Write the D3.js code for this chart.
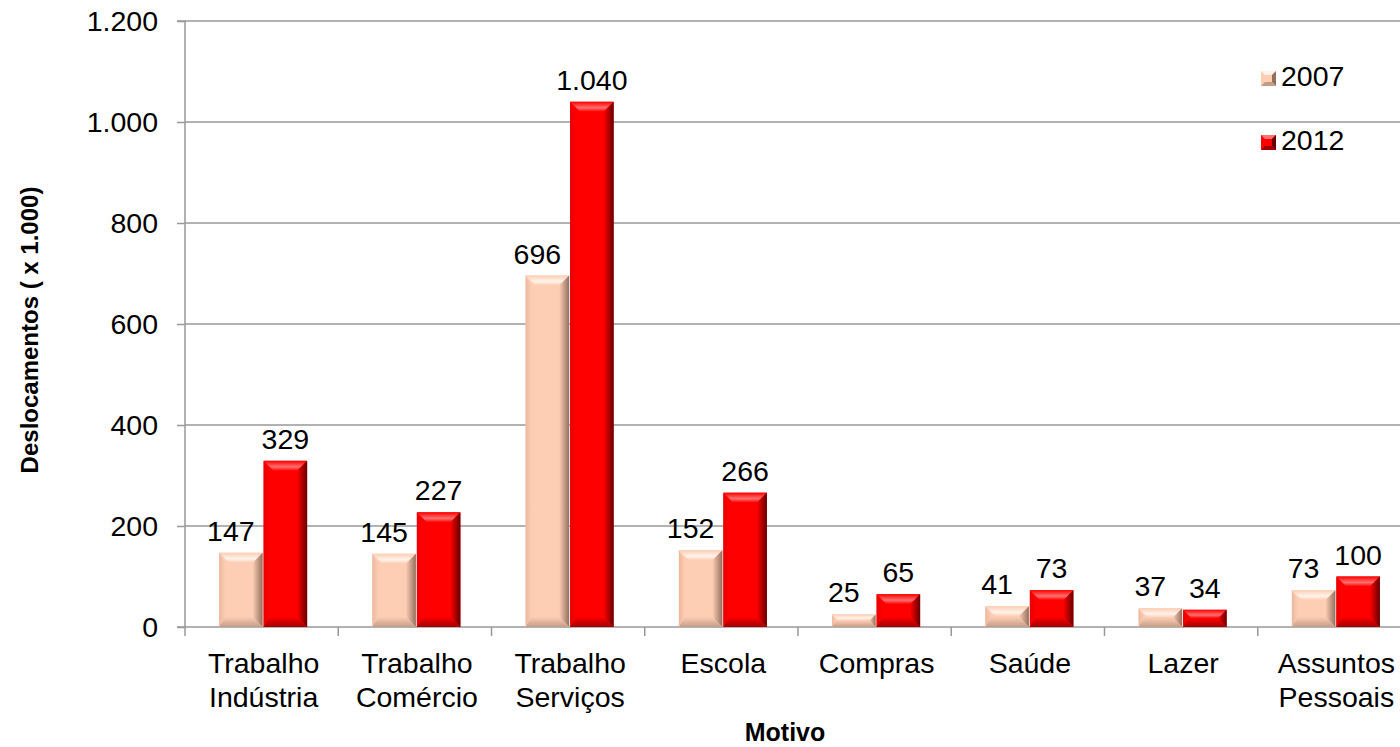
<!DOCTYPE html>
<html>
<head>
<meta charset="utf-8">
<script src="https://cdn.jsdelivr.net/npm/d3@7"></script>
<style>
  html, body { margin: 0; padding: 0; background: #fff; }
  svg { display: block; font-family: "Liberation Sans", Arial, sans-serif; }
</style>
</head>
<body>
<svg id="chart" width="1400" height="747"></svg>
<script>
// ---- data ----
const categories = [
  ["Trabalho", "Indústria"],
  ["Trabalho", "Comércio"],
  ["Trabalho", "Serviços"],
  ["Escola"],
  ["Compras"],
  ["Saúde"],
  ["Lazer"],
  ["Assuntos", "Pessoais"]
];
const seriesNames = ["2007", "2012"];
const values2007 = [147, 145, 696, 152, 25, 41, 37, 73];
const values2012 = [329, 227, 1040, 266, 65, 73, 34, 100];
const yTicks = [0, 200, 400, 600, 800, 1000, 1200];
const yTitle = "Deslocamentos ( x 1.000)";
const xTitle = "Motivo";

(function () {
// ---- setup ----
const svg = d3.select("#chart");
const W = 1400, H = 747;
const pLeft = 185, pRight = 1411, pTop = 21, pBottom = 627;

const locale = d3.formatLocale({decimal: ",", thousands: ".", grouping: [3], currency: ["", ""]});
const fmt = locale.format(",d");

const x = d3.scaleBand().domain(d3.range(categories.length)).range([pLeft, pRight]).padding(0);
const y = d3.scaleLinear().domain([0, 1200]).range([pBottom, pTop]);

const barW = 43.5;
const seriesVals = [values2007, values2012];
const styles = [
  {main: "#FDCDB4", light: "#FFF3EA", left: "#EBB89E", right: "#94705E", bottom: "#C39C87"},
  {main: "#FF0000", light: "#FF7070", left: "#E80000", right: "#640000", bottom: "#A00000"}
];

const defs = svg.append("defs");
styles.forEach((s, i) => {
  const gR = defs.append("linearGradient").attr("id", "gr" + i).attr("x1", 0).attr("x2", 1).attr("y1", 0).attr("y2", 0);
  gR.append("stop").attr("offset", 0).attr("stop-color", s.main);
  gR.append("stop").attr("offset", 1).attr("stop-color", s.right);
  const gT = defs.append("linearGradient").attr("id", "gt" + i).attr("x1", 0).attr("x2", 0).attr("y1", 0).attr("y2", 1);
  gT.append("stop").attr("offset", 0).attr("stop-color", s.main);
  gT.append("stop").attr("offset", 0.6).attr("stop-color", s.light);
  gT.append("stop").attr("offset", 1).attr("stop-color", s.main);
  const gB = defs.append("linearGradient").attr("id", "gb" + i).attr("x1", 0).attr("x2", 0).attr("y1", 0).attr("y2", 1);
  gB.append("stop").attr("offset", 0).attr("stop-color", s.main);
  gB.append("stop").attr("offset", 1).attr("stop-color", s.bottom);
  const gL = defs.append("linearGradient").attr("id", "gl" + i).attr("x1", 0).attr("x2", 1).attr("y1", 0).attr("y2", 0);
  gL.append("stop").attr("offset", 0).attr("stop-color", s.left);
  gL.append("stop").attr("offset", 1).attr("stop-color", s.main);
});

svg.append("rect").attr("width", W).attr("height", H).attr("fill", "#fff");

// gridlines
svg.append("g").selectAll("line").data(yTicks.filter(d => d > 0)).join("line")
  .attr("x1", pLeft).attr("x2", W).attr("y1", d => y(d)).attr("y2", d => y(d))
  .attr("stroke", "#989898").attr("stroke-width", 1.5);

// y axis
const yAxis = d3.axisLeft(y).tickValues(yTicks).tickFormat(fmt).tickSize(8).tickPadding(19);
const gy = svg.append("g").attr("transform", `translate(${pLeft},0)`).call(yAxis);
gy.select(".domain").attr("stroke", "#989898").attr("stroke-width", 1.5).attr("d", `M-8,${pTop}H0V${pBottom}H-8`);
gy.selectAll(".tick line").attr("stroke", "#989898").attr("stroke-width", 1.5);
gy.selectAll(".tick text").attr("font-size", 28.5).attr("fill", "#000").attr("font-family", "'Liberation Sans', Arial, sans-serif");

// x axis
const gx = svg.append("g").attr("transform", `translate(0,${pBottom})`);
gx.append("line").attr("x1", pLeft).attr("x2", W).attr("y1", 0).attr("y2", 0).attr("stroke", "#989898").attr("stroke-width", 1.5);
gx.selectAll("line.tk").data(d3.range(categories.length + 1)).join("line").attr("class", "tk")
  .attr("x1", d => pLeft + d * x.step()).attr("x2", d => pLeft + d * x.step())
  .attr("y1", 0).attr("y2", 9).attr("stroke", "#989898").attr("stroke-width", 1.5);
const catText = gx.selectAll("text.cat").data(categories).join("text").attr("class", "cat")
  .attr("x", (d, i) => x(i) + x.bandwidth() / 2 + 2)
  .attr("y", 46)
  .attr("text-anchor", "middle").attr("font-size", 28.5).attr("fill", "#000");
catText.each(function(d) {
  const t = d3.select(this);
  d.forEach((line, j) => {
    t.append("tspan").attr("x", t.attr("x")).attr("dy", j === 0 ? 0 : 34).text(line);
  });
});

// bars
function bevelBar(g, bx, by, bw, bh, si) {
  const b = Math.min(10, bh / 2);
  const s = styles[si];
  g.append("rect").attr("x", bx).attr("y", by).attr("width", bw).attr("height", bh).attr("fill", s.main);
  g.append("polygon").attr("points", [[bx, by], [bx + bw, by], [bx + bw - b, by + b], [bx + b, by + b]].join(" ")).attr("fill", `url(#gt${si})`);
  g.append("polygon").attr("points", [[bx, by], [bx + b * 0.6, by + b], [bx + b * 0.6, by + bh - b], [bx, by + bh]].join(" ")).attr("fill", `url(#gl${si})`);
  g.append("polygon").attr("points", [[bx + bw, by], [bx + bw - b, by + b], [bx + bw - b, by + bh - b], [bx + bw, by + bh]].join(" ")).attr("fill", `url(#gr${si})`);
  g.append("polygon").attr("points", [[bx, by + bh], [bx + b * 0.6, by + bh - b], [bx + bw - b, by + bh - b], [bx + bw, by + bh]].join(" ")).attr("fill", `url(#gb${si})`);
}
function bevelLegend(g, bx, by, bw, bh, si) {
  const s = styles[si];
  const b = 4;
  g.append("rect").attr("x", bx).attr("y", by).attr("width", bw).attr("height", bh).attr("fill", s.main);
  g.append("polygon").attr("points", [[bx, by], [bx + bw, by], [bx + bw - b, by + b], [bx + b, by + b]].join(" ")).attr("fill", s.light);
  g.append("polygon").attr("points", [[bx + bw, by], [bx + bw - b, by + b], [bx + bw - b, by + bh - b], [bx + bw, by + bh]].join(" ")).attr("fill", s.right);
  g.append("polygon").attr("points", [[bx, by + bh], [bx + b, by + bh - b], [bx + bw - b, by + bh - b], [bx + bw, by + bh]].join(" ")).attr("fill", s.bottom);
}

const barsG = svg.append("g");
const labelsG = svg.append("g");
seriesVals.forEach((vals, si) => {
  vals.forEach((v, i) => {
    const cx = x(i) + x.bandwidth() / 2 + 1.5;
    const bx = si === 0 ? cx - barW - 0.5 : cx + 0.5;
    const by = y(v);
    bevelBar(barsG, bx, by, barW, pBottom - by, si);
    labelsG.append("text")
      .attr("x", bx + barW / 2 + (si === 0 ? -10 : 0))
      .attr("y", by - 12)
      .attr("text-anchor", "middle").attr("font-size", 28.5).attr("fill", "#000")
      .text(fmt(v));
  });
});

// legend
const legend = svg.append("g");
seriesNames.forEach((name, i) => {
  const ly = 86 + i * 64;
  bevelLegend(legend, 1261, ly - 15, 15, 15, i);
  legend.append("text").attr("x", 1281).attr("y", ly).attr("font-size", 28.5).attr("fill", "#000").text(name);
});

// titles
svg.append("text").attr("transform", `translate(38,330) rotate(-90)`)
  .attr("text-anchor", "middle").attr("font-size", 24).attr("font-weight", "bold").attr("fill", "#000")
  .text(yTitle);
svg.append("text").attr("x", 785).attr("y", 741)
  .attr("text-anchor", "middle").attr("font-size", 25).attr("font-weight", "bold").attr("fill", "#000")
  .text(xTitle);
})();
</script>
</body>
</html>
